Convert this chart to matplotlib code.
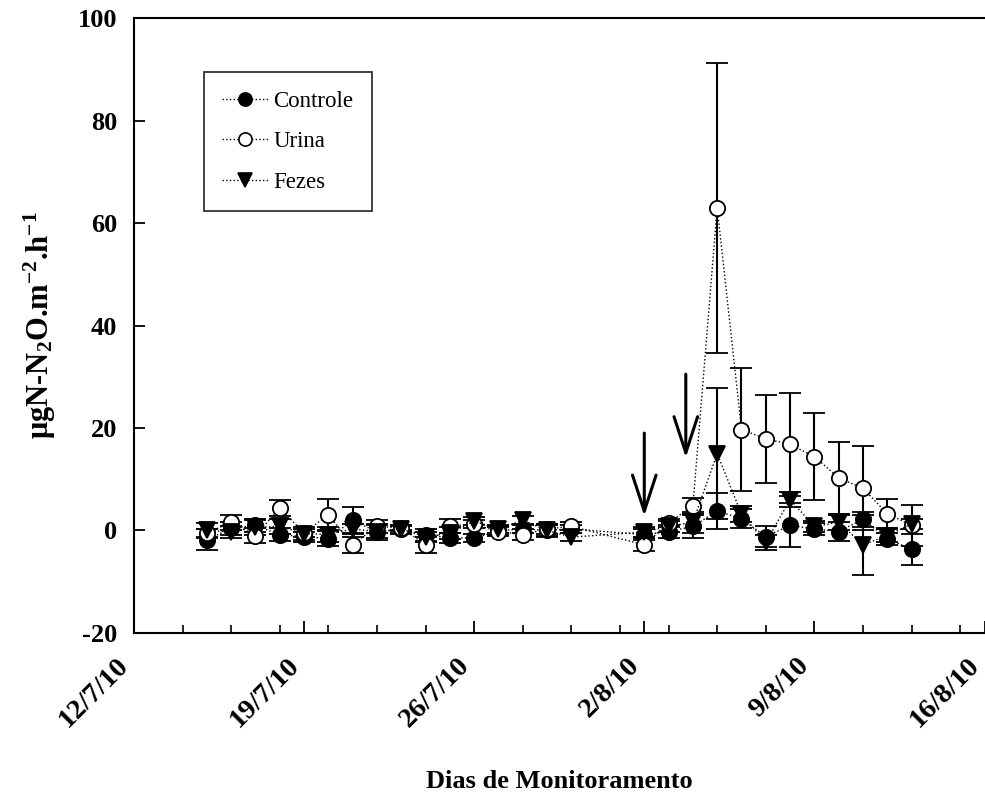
import numpy as np
import matplotlib
matplotlib.use("Agg")
import matplotlib.pyplot as plt
import matplotlib.dates as mdates
from matplotlib.lines import Line2D
from datetime import datetime, timedelta

plt.rcParams['font.family'] = ['Liberation Serif', 'DejaVu Serif']
plt.rcParams['mathtext.fontset'] = 'custom'
plt.rcParams['mathtext.rm'] = 'Liberation Serif:bold'
plt.rcParams['mathtext.default'] = 'rm'
plt.rcParams['axes.unicode_minus'] = False

# sampling days (15/7 - 30/7 and 2/8 - 13/8, 2010)
days = [15, 16, 17, 18, 19, 20, 21, 22, 23, 24, 25, 26, 27, 28, 29, 30,
        33, 34, 35, 36, 37, 38, 39, 40, 41, 42, 43, 44]  # day of July (33 = 2/8)

controle = [-1.8, 0.4, 1.0, -0.8, -1.2, -1.6, 2.0, -0.3, 0.2, -0.9, -1.4, -1.5, 0.0, 0.3, 0.0, 0.3,
            -0.8, -0.2, 0.8, 3.8, 2.3, -1.2, 1.0, 0.3, -0.2, 2.2, -1.6, -3.7]
controle_err = [2.0, 1.2, 1.2, 1.3, 1.0, 1.5, 2.5, 1.5, 0.8, 1.2, 1.0, 0.8, 0.8, 0.8, 1.2, 0.8,
                1.0, 1.2, 2.3, 3.5, 1.8, 2.0, 4.3, 1.2, 1.8, 1.5, 1.2, 3.0]

urina = [-0.5, 1.6, -1.0, 4.4, -0.5, 3.1, -2.8, 0.8, 0.5, -2.8, 0.9, 1.2, -0.2, -0.8, 0.3, 0.8,
         -2.8, 1.5, 4.8, 63.0, 19.7, 17.9, 16.8, 14.4, 10.3, 8.2, 3.3, 1.0]
urina_err = [0.8, 1.5, 1.5, 1.5, 0.8, 3.0, 1.6, 1.2, 0.5, 1.6, 1.3, 0.8, 0.8, 1.0, 1.0, 0.8,
             1.3, 0.8, 1.6, 28.3, 12.0, 8.6, 10.1, 8.5, 7.0, 8.2, 2.8, 4.0]

fezes = [0.0, -0.3, 0.6, 0.8, -0.6, -0.8, 0.3, -0.2, 0.3, -1.2, -0.5, 1.8, 0.3, 2.0, 0.0, -1.3,
         -0.3, 0.8, 1.6, 15.0, 3.2, -2.3, 6.0, 0.8, 1.6, -2.8, -1.0, 1.3]
fezes_err = [1.5, 1.2, 1.5, 1.5, 1.2, 1.5, 1.0, 1.2, 0.6, 1.0, 1.2, 0.8, 0.8, 0.8, 1.0, 0.8,
             1.0, 1.0, 2.0, 12.8, 1.5, 1.5, 1.5, 1.0, 1.5, 5.9, 1.2, 1.0]

tick_dates = ["12/7/10", "19/7/10", "26/7/10", "2/8/10", "9/8/10", "16/8/10"]

start = datetime(2010, 7, 1)
x = [start + timedelta(days=d - 1) for d in days]

fig = plt.figure(figsize=(9.85, 7.98), dpi=100)
ax = fig.add_axes([0.136, 0.2068, 0.8635, 0.7706])

series = [
    (controle, controle_err, 'o', 'black', 'Controle'),
    (urina, urina_err, 'o', 'white', 'Urina'),
    (fezes, fezes_err, 'v', 'black', 'Fezes'),
]
handles = []
for vals, err, mk, fc, lab in series:
    ax.errorbar(x, vals, yerr=err, fmt=mk, linestyle=':', color='black', lw=1.0,
                markerfacecolor=fc, markeredgecolor='black', markeredgewidth=1.3,
                markersize=11, ecolor='black', elinewidth=1.5, capsize=8, capthick=1.5)
    handles.append(Line2D([], [], marker=mk, linestyle=':', color='black', lw=1.0,
                          markerfacecolor=fc, markeredgecolor='black',
                          markeredgewidth=1.2, markersize=9.5, label=lab))

# arrows marking application dates
for xa, y0, y1 in [(datetime(2010, 8, 2), 19.0, 2.8), (datetime(2010, 8, 3, 17), 30.5, 14.2)]:
    ax.annotate('', xy=(mdates.date2num(xa), y1), xytext=(mdates.date2num(xa), y0),
                arrowprops=dict(arrowstyle='->, head_length=2.6, head_width=0.85',
                                lw=2.2, color='black', mutation_scale=10,
                                shrinkA=0, shrinkB=0))

tick_pos = [datetime.strptime(t, "%d/%m/%y") for t in tick_dates]
ax.set_xlim(tick_pos[0], tick_pos[-1])
ax.set_ylim(-20, 100)
ax.set_xticks(tick_pos)
ax.set_xticklabels(tick_dates, rotation=45, ha='right', va='bottom',
                   rotation_mode='anchor', fontsize=20.5, fontweight='bold')
minor = [tick_pos[0] + timedelta(days=2 * i) for i in range(1, 18)]
ax.set_xticks(minor, minor=True)
ax.set_yticks(np.arange(-20, 101, 20))
ax.tick_params(axis='y', labelsize=19, direction='in', length=8, width=1.3, pad=12)
ax.tick_params(axis='x', which='major', direction='in', length=9, width=1.3, pad=27)
ax.tick_params(axis='x', which='minor', direction='in', length=6, width=1.2)
for lbl in ax.get_yticklabels():
    lbl.set_fontweight('bold')

for s in ['left', 'bottom', 'top']:
    ax.spines[s].set_linewidth(1.5)
ax.spines['right'].set_visible(False)

ax.set_xlabel('Dias de Monitoramento', fontsize=19, fontweight='bold', labelpad=27)
ax.set_ylabel(r'μgN-N$_{2}$O.m$^{-2}$.h$^{-1}$', fontsize=22, fontweight='bold', labelpad=14)

leg = ax.legend(handles=handles, loc='upper left', bbox_to_anchor=(0.082, 0.912),
                borderaxespad=0, fontsize=16.5, frameon=True, fancybox=False,
                edgecolor='black', handlelength=2.0, labelspacing=0.85, borderpad=0.8,
                handletextpad=0.25)
leg.get_frame().set_linewidth(1.3)

fig.savefig('out.png', dpi=100)
